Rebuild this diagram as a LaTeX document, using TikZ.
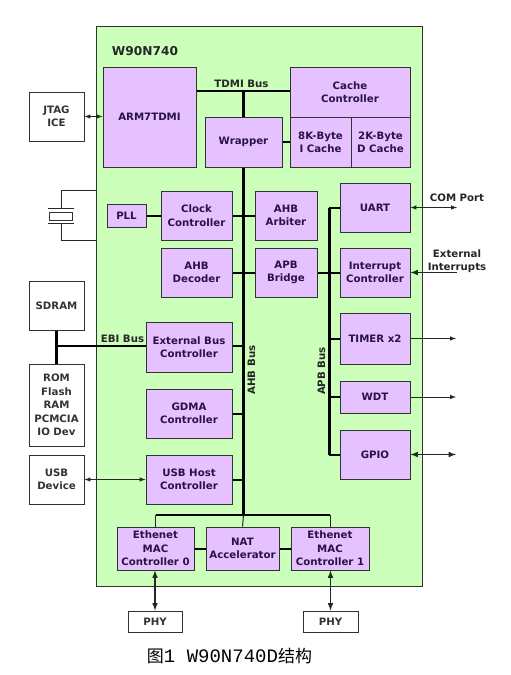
\documentclass[tikz,border=0pt]{standalone}
\usepackage{fontspec}
\setmainfont{DejaVu Sans}
\newfontfamily\cjk{Noto Sans CJK SC}
\newfontfamily\capmono{Liberation Mono}
\definecolor{chipgreen}{HTML}{CCFFB9}
\definecolor{blockpurple}{HTML}{E6C1FF}
\definecolor{blocktext}{HTML}{2A1245}
\definecolor{edgegrey}{HTML}{2E352E}
\tikzset{
  lbl/.style={font=\fontsize{10.2}{13.4}\selectfont\bfseries,text=black!85,align=center,inner sep=0pt},
  block/.style={lbl,draw=edgegrey,line width=1pt,fill=blockpurple,text=blocktext},
  extbox/.style={lbl,draw=edgegrey,line width=1pt,fill=white,text=black!80},
  bus/.style={line width=3pt,black},
  stub/.style={line width=2pt,black},
  link/.style={line width=1pt,black!85,>=latex},
  biglink/.style={line width=1.5pt,black!85,>=latex},
}
\begin{document}
\begin{tikzpicture}[x=1pt,y=-1pt]
  \useasboundingbox (0,0) rectangle (511,675);
  \node[draw=edgegrey,line width=1pt,fill=chipgreen,minimum width=326pt,minimum height=560pt] (chip) at (259,306) {};
  \node[lbl,font=\fontsize{12.2}{13}\selectfont\bfseries] (title) at (145,51) {W90N740};
  % blocks inside the chip
  \node[block,minimum width=93pt,minimum height=100pt] (arm) at (149.5,117) {ARM7TDMI};
  \node[block,minimum width=77pt,minimum height=50pt] (wrapper) at (243.5,142) {Wrapper};
  \node[block,minimum width=120pt,minimum height=50pt] (cache) at (350,92) {Cache\\Controller};
  \node[block,minimum width=61pt,minimum height=50pt] (icache) at (320.5,142) {8K-Byte\\I Cache};
  \node[block,minimum width=59pt,minimum height=50pt] (dcache) at (380.5,142) {2K-Byte\\D Cache};
  \node[block,minimum width=39pt,minimum height=23pt] (pll) at (126.5,215.5) {PLL};
  \node[block,minimum width=71pt,minimum height=49pt] (clock) at (196.5,215.5) {Clock\\Controller};
  \node[block,minimum width=62pt,minimum height=49pt] (arbiter) at (286,215.5) {AHB\\Arbiter};
  \node[block,minimum width=70pt,minimum height=49pt] (uart) at (375,207.5) {UART};
  \node[block,minimum width=71pt,minimum height=49pt] (decoder) at (196.5,272.5) {AHB\\Decoder};
  \node[block,minimum width=62pt,minimum height=49pt] (bridge) at (286,272.5) {APB\\Bridge};
  \node[block,minimum width=70pt,minimum height=49pt] (intc) at (375,272.5) {Interrupt\\Controller};
  \node[block,minimum width=70pt,minimum height=51pt] (timer) at (375,338.5) {TIMER x2};
  \node[block,minimum width=70pt,minimum height=32pt] (wdt) at (375,397) {WDT};
  \node[block,minimum width=70pt,minimum height=49pt] (gpio) at (375,454.5) {GPIO};
  \node[block,minimum width=86pt,minimum height=50pt] (ebc) at (189,347) {External Bus\\Controller};
  \node[block,minimum width=86pt,minimum height=49pt] (gdma) at (189,413.5) {GDMA\\Controller};
  \node[block,minimum width=86pt,minimum height=49pt] (usbhost) at (189,479.5) {USB Host\\Controller};
  \node[block,minimum width=77pt,minimum height=43pt] (mac0) at (155.5,548.5) {Ethenet\\MAC\\Controller 0};
  \node[block,minimum width=73pt,minimum height=43pt] (nat) at (242.5,548.5) {NAT\\Accelerator};
  \node[block,minimum width=78pt,minimum height=43pt] (mac1) at (330,548.5) {Ethenet\\MAC\\Controller 1};
  % blocks outside the chip
  \node[extbox,minimum width=55pt,minimum height=49pt] (jtag) at (56.5,116.5) {JTAG\\ICE};
  \node[extbox,minimum width=55pt,minimum height=49pt] (sdram) at (56.5,305.5) {SDRAM};
  \node[extbox,minimum width=55pt,minimum height=82pt] (rom) at (56.5,405) {ROM\\Flash\\RAM\\PCMCIA\\IO Dev};
  \node[extbox,minimum width=55pt,minimum height=49pt] (usbdev) at (56.5,479.5) {USB\\Device};
  \node[extbox,minimum width=54pt,minimum height=21pt] (phy0) at (155,621.5) {PHY};
  \node[extbox,minimum width=55pt,minimum height=21pt] (phy1) at (330.5,621.5) {PHY};
  % crystal
  \node[draw=edgegrey,line width=1pt,fill=white,minimum width=23pt,minimum height=8pt,inner sep=0pt] (xtal) at (60.5,216) {};
  \coordinate (xtaltop) at (61,190);
  \coordinate (xtalbot) at (61,240);
  \coordinate (platea) at (61,208);
  \coordinate (plateb) at (61,223);
  \draw[link] ([xshift=-13pt]platea) -- ([xshift=13pt]platea);
  \draw[link] ([xshift=-13pt]plateb) -- ([xshift=13pt]plateb);
  \draw[link] (chip.west |- xtaltop) -- (xtaltop) -- (platea);
  \draw[link] (chip.west |- xtalbot) -- (xtalbot) -- (plateb);
  % buses
  \coordinate (tdmi) at (243.5,91);
  \coordinate (ahbend) at (243.5,515);
  \coordinate (ebi) at (56.5,346);
  \coordinate (apbtop) at (329,207.5);
  \coordinate (apbend) at (329,454.5);
  \draw[stub] (arm.east |- tdmi) -- (cache.west |- tdmi);
  \draw[bus] (tdmi) -- (wrapper.north);
  \draw[bus] (wrapper.south) -- (ahbend);
  \draw[stub] (wrapper.east) -- (icache.west);
  \draw[stub] (pll.east) -- (clock.west);
  \draw[stub] (clock.east) -- (arbiter.west);
  \draw[stub] (decoder.east) -- (bridge.west);
  \draw[stub] (ebc.east |- ebi) -- (ebi -| ahbend);
  \draw[stub] (gdma.east) -- (gdma.east -| ahbend);
  \draw[stub] (usbhost.east) -- (usbhost.east -| ahbend);
  \draw[stub,line width=2.5pt] (ebi -| ebc.west) -- (ebi);
  \draw[stub,line width=2.5pt] (sdram.south) -- (rom.north);
  \draw[bus] (apbtop) -- (apbend);
  \draw[stub] (apbtop) -- (uart.west);
  \draw[stub] (bridge.east) -- (intc.west);
  \draw[stub] (timer.west -| apbtop) -- (timer.west);
  \draw[stub] (wdt.west -| apbtop) -- (wdt.west);
  \draw[stub] (apbend) -- (gpio.west);
  \draw[link] (mac0.north) |- (ahbend) -| (mac1.north);
  \draw[stub] (ahbend -| mac0.north) -- (ahbend -| mac1.north);
  \draw[link] (ahbend) -- (nat.north);
  \draw[stub] (mac0.east |- nat.west) -- (nat.west);
  \draw[stub] (nat.east) -- (mac1.west |- nat.east);
  % arrows
  \coordinate (comport) at (457,207.5);
  \coordinate (extint) at (457,272.5);
  \coordinate (timerout) at (456,338.5);
  \coordinate (wdtout) at (456,397);
  \coordinate (gpioout) at (456,454.5);
  \draw[link,<->] (jtag.east) -- (arm.west |- jtag.east);
  \draw[link,<->] (usbdev.east) -- (usbhost.west);
  \draw[link,<->] (uart.east) -- (comport);
  \draw[biglink,->] (extint) -- (intc.east);
  \draw[link,->] (timer.east) -- (timerout);
  \draw[link,->] (wdt.east) -- (wdtout);
  \draw[biglink,<->] (gpio.east) -- (gpioout);
  \draw[biglink,<->] (mac0.south -| phy0.north) -- (phy0.north);
  \draw[biglink,<->] (mac1.south -| phy1.north) -- (phy1.north);
  % labels
  \node[lbl] (tdmilabel) at (241.5,84) {TDMI Bus};
  \node[lbl] (ebilabel) at (122.5,339) {EBI Bus};
  \node[lbl,rotate=90] (ahblabel) at (251.5,370) {AHB Bus};
  \node[lbl,rotate=90] (apblabel) at (321.5,371) {APB Bus};
  \node[lbl] (comlabel) at (457,198) {COM Port};
  \node[lbl] (intlabel) at (457,261) {External\\Interrupts};
  \node[inner sep=0pt] (caption) at (229.5,656) {\cjk\fontsize{17}{20}\selectfont 图\capmono\fontsize{19}{20}\selectfont 1 W90N740D\cjk\fontsize{17}{20}\selectfont 结构};
\end{tikzpicture}
\end{document}
